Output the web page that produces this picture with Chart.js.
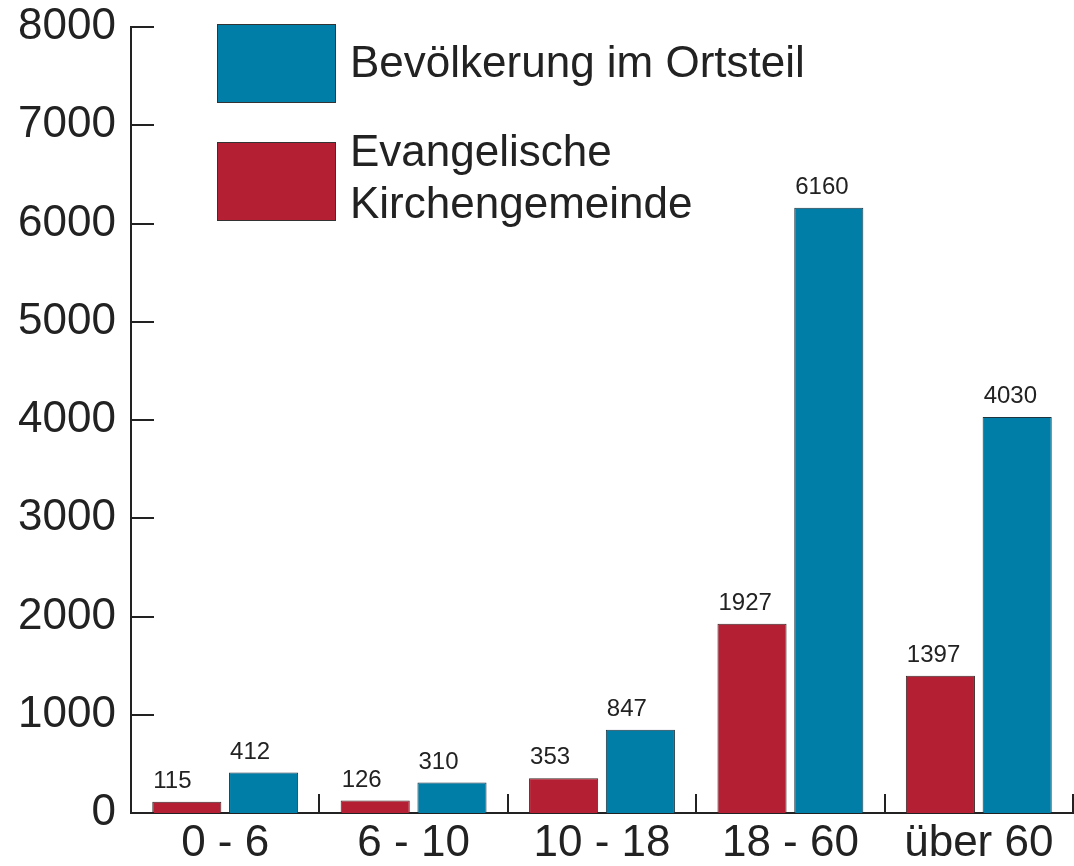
<!DOCTYPE html>
<html>
<head>
<meta charset="utf-8">
<script src="https://cdn.jsdelivr.net/npm/chart.js@4"></script>
<style>
  html, body { margin: 0; padding: 0; background: #fff; }
  #wrap { width: 1074px; height: 866px; }
</style>
</head>
<body>
<div id="wrap"><canvas id="myChart"></canvas></div>
<script>
const categories = ["0 - 6", "6 - 10", "10 - 18", "18 - 60", "über 60"];
const kirche = [115, 126, 353, 1927, 1397];
const bevoelkerung = [412, 310, 847, 6160, 4030];
const yTicks = [0, 1000, 2000, 3000, 4000, 5000, 6000, 7000, 8000];

const FONT = "'Liberation Sans', Arial, Helvetica, sans-serif";
const INK = "#222";

// Zahlen über den Balken (linksbündig an der Balkenkante)
const valueLabels = {
  id: "valueLabels",
  afterDatasetsDraw(chart) {
    const ctx = chart.ctx;
    ctx.save();
    ctx.font = "24px " + FONT;
    ctx.fillStyle = INK;
    ctx.textAlign = "left";
    ctx.textBaseline = "alphabetic";
    chart.data.datasets.forEach((ds, i) => {
      chart.getDatasetMeta(i).data.forEach((bar, j) => {
        ctx.fillText(ds.data[j], bar.x - bar.width / 2 + 1, bar.y - 14);
      });
    });
    ctx.restore();
  }
};

// Striche nach innen an beiden Achsen
const innerTicks = {
  id: "innerTicks",
  afterDraw(chart) {
    const ctx = chart.ctx;
    const a = chart.chartArea;
    const y = chart.scales.y, x = chart.scales.x;
    ctx.save();
    ctx.strokeStyle = INK;
    ctx.lineWidth = 2;
    ctx.beginPath();
    yTicks.forEach(v => {
      const py = Math.round(y.getPixelForValue(v));
      ctx.moveTo(a.left, py);
      ctx.lineTo(a.left + 23, py);
    });
    for (let i = 1; i <= categories.length; i++) {
      const px = Math.round(x.getPixelForValue(i - 0.5));
      ctx.moveTo(px, a.bottom);
      ctx.lineTo(px, a.bottom - 19);
    }
    ctx.stroke();
    ctx.restore();
  }
};

// Legende mit großen Kästchen
const boxLegend = {
  id: "boxLegend",
  afterDraw(chart) {
    const ctx = chart.ctx;
    const items = [
      { ds: chart.data.datasets[1], y: 24, lines: ["Bevölkerung im Ortsteil"] },
      { ds: chart.data.datasets[0], y: 142, lines: ["Evangelische", "Kirchengemeinde"] }
    ];
    ctx.save();
    items.forEach(it => {
      ctx.fillStyle = it.ds.backgroundColor;
      ctx.fillRect(217, it.y, 118, 78);
      ctx.strokeStyle = "#333";
      ctx.lineWidth = 1;
      ctx.strokeRect(217.5, it.y + 0.5, 118, 78);
      ctx.fillStyle = INK;
      ctx.font = "44px " + FONT;
      ctx.textAlign = "left";
      ctx.textBaseline = "middle";
      if (it.lines.length === 1) {
        ctx.fillText(it.lines[0], 350, it.y + 41);
      } else {
        ctx.fillText(it.lines[0], 350, it.y + 12);
        ctx.fillText(it.lines[1], 350, it.y + 64);
      }
    });
    ctx.restore();
  }
};

const ctx = document.getElementById("myChart").getContext("2d");
const myChart = new Chart(ctx, {
  type: "bar",
  data: {
    labels: categories,
    datasets: [
      {
        label: "Evangelische Kirchengemeinde",
        data: kirche,
        backgroundColor: "#b41f33",
        borderColor: "#3a2a2a",
        borderWidth: 1,
        categoryPercentage: 0.815,
        barPercentage: 0.9
      },
      {
        label: "Bevölkerung im Ortsteil",
        data: bevoelkerung,
        backgroundColor: "#007ea7",
        borderColor: "#1e3540",
        borderWidth: 1,
        categoryPercentage: 0.815,
        barPercentage: 0.9
      }
    ]
  },
  options: {
    responsive: true,
    maintainAspectRatio: false,
    animation: false,
    layout: { padding: { top: 27, right: 1, left: 0, bottom: 0 } },
    plugins: {
      legend: { display: false },
      tooltip: { enabled: false }
    },
    scales: {
      x: {
        grid: { display: false },
        border: { display: true, color: INK, width: 2 },
        ticks: { color: INK, font: { size: 44, family: FONT }, padding: -4, maxRotation: 0 },
        afterFit(scale) {
          scale.height = 53;
          scale.paddingLeft = 0;
          scale.paddingRight = 0;
        }
      },
      y: {
        min: 0,
        max: 8000,
        afterBuildTicks(scale) { scale.ticks = yTicks.map(v => ({ value: v })); },
        grid: { display: false },
        border: { display: true, color: INK, width: 2 },
        ticks: {
          color: INK,
          font: { size: 44, family: FONT },
          padding: 7,
          callback: v => String(v)
        },
        afterFit(scale) {
          scale.width = 131;
          scale.paddingTop = 0;
          scale.paddingBottom = 0;
        }
      }
    }
  },
  plugins: [valueLabels, innerTicks, boxLegend]
});
</script>
</body>
</html>
